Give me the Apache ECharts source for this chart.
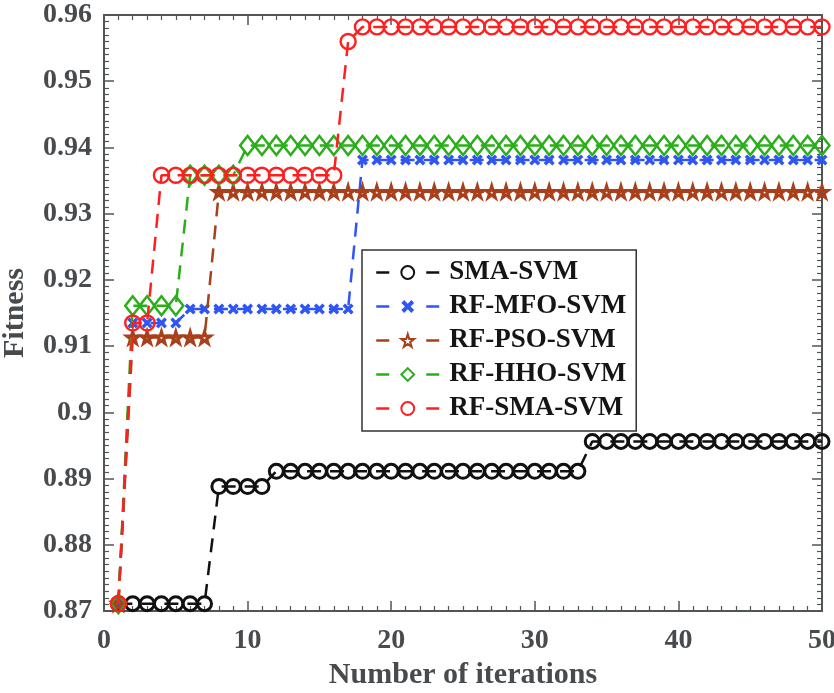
<!DOCTYPE html>
<html>
<head>
<meta charset="utf-8">
<script src="https://cdn.jsdelivr.net/npm/echarts@6/dist/echarts.min.js"></script>
<style>
html,body{margin:0;padding:0;background:#fff;}
#chart{width:834px;height:693px;}
</style>
</head>
<body>
<div id="chart"></div>
<script>
// ---- data ----
const iterations = [1,2,3,4,5,6,7,8,9,10,11,12,13,14,15,16,17,18,19,20,21,22,23,24,25,26,27,28,29,30,31,32,33,34,35,36,37,38,39,40,41,42,43,44,45,46,47,48,49,50];
const seriesNames = ['SMA-SVM','RF-MFO-SVM','RF-PSO-SVM','RF-HHO-SVM','RF-SMA-SVM'];
const smaSvm = [0.8711,0.8711,0.8711,0.8711,0.8711,0.8711,0.8711,0.8888,0.8888,0.8888,0.8888,0.8911,0.8911,0.8911,0.8911,0.8911,0.8911,0.8911,0.8911,0.8911,0.8911,0.8911,0.8911,0.8911,0.8911,0.8911,0.8911,0.8911,0.8911,0.8911,0.8911,0.8911,0.8911,0.8956,0.8956,0.8956,0.8956,0.8956,0.8956,0.8956,0.8956,0.8956,0.8956,0.8956,0.8956,0.8956,0.8956,0.8956,0.8956,0.8956];
const rfMfoSvm = [0.8711,0.9135,0.9135,0.9135,0.9135,0.9156,0.9156,0.9156,0.9156,0.9156,0.9156,0.9156,0.9156,0.9156,0.9156,0.9156,0.9156,0.9381,0.9381,0.9381,0.9381,0.9381,0.9381,0.9381,0.9381,0.9381,0.9381,0.9381,0.9381,0.9381,0.9381,0.9381,0.9381,0.9381,0.9381,0.9381,0.9381,0.9381,0.9381,0.9381,0.9381,0.9381,0.9381,0.9381,0.9381,0.9381,0.9381,0.9381,0.9381,0.9381];
const rfPsoSvm = [0.8711,0.9113,0.9113,0.9113,0.9113,0.9113,0.9113,0.9333,0.9333,0.9333,0.9333,0.9333,0.9333,0.9333,0.9333,0.9333,0.9333,0.9333,0.9333,0.9333,0.9333,0.9333,0.9333,0.9333,0.9333,0.9333,0.9333,0.9333,0.9333,0.9333,0.9333,0.9333,0.9333,0.9333,0.9333,0.9333,0.9333,0.9333,0.9333,0.9333,0.9333,0.9333,0.9333,0.9333,0.9333,0.9333,0.9333,0.9333,0.9333,0.9333];
const rfHhoSvm = [0.8711,0.9161,0.9161,0.9161,0.9161,0.9358,0.9358,0.9358,0.9358,0.9403,0.9403,0.9403,0.9403,0.9403,0.9403,0.9403,0.9403,0.9403,0.9403,0.9403,0.9403,0.9403,0.9403,0.9403,0.9403,0.9403,0.9403,0.9403,0.9403,0.9403,0.9403,0.9403,0.9403,0.9403,0.9403,0.9403,0.9403,0.9403,0.9403,0.9403,0.9403,0.9403,0.9403,0.9403,0.9403,0.9403,0.9403,0.9403,0.9403,0.9403];
const rfSmaSvm = [0.8711,0.9135,0.9135,0.9358,0.9358,0.9358,0.9358,0.9358,0.9358,0.9358,0.9358,0.9358,0.9358,0.9358,0.9358,0.9358,0.9560,0.9582,0.9582,0.9582,0.9582,0.9582,0.9582,0.9582,0.9582,0.9582,0.9582,0.9582,0.9582,0.9582,0.9582,0.9582,0.9582,0.9582,0.9582,0.9582,0.9582,0.9582,0.9582,0.9582,0.9582,0.9582,0.9582,0.9582,0.9582,0.9582,0.9582,0.9582,0.9582,0.9582];
const xTicks = [0,10,20,30,40,50];
const yTicks = ['0.87','0.88','0.89','0.9','0.91','0.92','0.93','0.94','0.95','0.96'];

// ---- styling ----
const FONT = 'Liberation Serif';
const AXIS_COLOR = '#505558';
const LABEL_COLOR = '#474b4e';
const colors = ['#111111','#2f55f2','#a8401c','#2aae1a','#ff1f1f'];
const xMark = 'path://M0,2.2 L2.2,0 L5,2.8 L7.8,0 L10,2.2 L7.2,5 L10,7.8 L7.8,10 L5,7.2 L2.2,10 L0,7.8 L2.8,5 Z';
const starMark = 'path://M50,0 L61,35 L98,35 L68,57 L79,91 L50,70 L21,91 L32,57 L2,35 L39,35 Z';
const symbols = ['circle', xMark, starMark, 'diamond', 'circle'];
const symbolSizes = [14, 11, 12, [15, 19], 15];
const borderWidths = [3, 0, 3, 2.5, 2.4];
const values = [smaSvm, rfMfoSvm, rfPsoSvm, rfHhoSvm, rfSmaSvm];

function makeSeries(i) {
  const filled = (i === 1);
  return {
    name: seriesNames[i],
    type: 'line',
    data: iterations.map((it, k) => [it, values[i][k]]),
    symbol: symbols[i],
    symbolSize: symbolSizes[i],
    showAllSymbol: true,
    clip: false,
    lineStyle: { color: colors[i], width: 2.5, type: [14, 9] },
    itemStyle: filled
      ? { color: colors[i], borderWidth: 0 }
      : { color: 'transparent', borderColor: colors[i], borderWidth: borderWidths[i] },
    emphasis: { disabled: true },
    animation: false,
    z: 2 + i
  };
}

const tickCommon = {
  axisLine: { show: true, onZero: false, lineStyle: { color: AXIS_COLOR, width: 2 } },
  axisTick: { show: true, inside: true, length: 10, lineStyle: { color: AXIS_COLOR, width: 1.5 } },
  minorTick: { show: true, splitNumber: 10, length: 5, lineStyle: { color: AXIS_COLOR, width: 1.2 } },
  splitLine: { show: false },
  minorSplitLine: { show: false }
};

const chart = echarts.init(document.getElementById('chart'), null, { renderer: 'canvas' });
chart.setOption({
  backgroundColor: '#ffffff',
  animation: false,
  grid: { left: 104, right: 12, top: 15, bottom: 82, containLabel: false, outerBoundsMode: 'none' },
  xAxis: [
    Object.assign({
      type: 'value', min: 0, max: 50, interval: 10, position: 'bottom',
      name: 'Number of iterations', nameLocation: 'middle', nameGap: 46,
      nameTextStyle: { fontFamily: FONT, fontWeight: 'bold', fontSize: 30, color: LABEL_COLOR },
      axisLabel: { show: true, margin: 16, fontFamily: FONT, fontWeight: 'bold', fontSize: 28, color: LABEL_COLOR,
        formatter: v => xTicks.indexOf(v) >= 0 ? String(v) : '' }
    }, tickCommon),
    Object.assign({
      type: 'value', min: 0, max: 50, interval: 10, position: 'top',
      axisLabel: { show: false }
    }, tickCommon)
  ],
  yAxis: [
    Object.assign({
      type: 'value', min: 0.87, max: 0.96, interval: 0.01, position: 'left',
      name: 'Fitness', nameLocation: 'middle', nameGap: 74, nameRotate: 90,
      nameTextStyle: { fontFamily: FONT, fontWeight: 'bold', fontSize: 30, color: LABEL_COLOR },
      axisLabel: { show: true, margin: 12, fontFamily: FONT, fontWeight: 'bold', fontSize: 28, color: LABEL_COLOR,
        formatter: v => { const s = String(+v.toFixed(2)); return yTicks.indexOf(s) >= 0 ? s : ''; } }
    }, tickCommon),
    Object.assign({
      type: 'value', min: 0.87, max: 0.96, interval: 0.01, position: 'right',
      axisLabel: { show: false }
    }, tickCommon)
  ],
  legend: {
    orient: 'vertical',
    left: 362, top: 250,
    padding: [9, 10, 9, 13],
    itemGap: 7,
    itemWidth: 63,
    itemHeight: 16,
    backgroundColor: '#ffffff',
    borderColor: '#333333',
    borderWidth: 1.5,
    lineStyle: { type: [13, 37], width: 2.5 },
    textStyle: { fontFamily: FONT, fontWeight: 'bold', fontSize: 27, color: '#151515', padding: [0, 0, 0, 5] },
    selectedMode: false,
    data: seriesNames
  },
  series: [0,1,2,3,4].map(makeSeries)
});
</script>
</body>
</html>
